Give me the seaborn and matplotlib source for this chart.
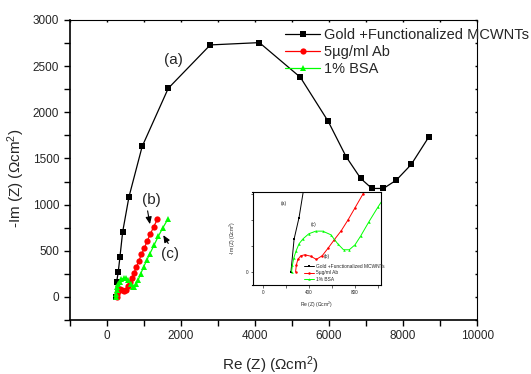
import matplotlib
matplotlib.use("Agg")
import matplotlib.pyplot as plt
from matplotlib.ticker import MultipleLocator, FixedLocator
import seaborn as sns
import pandas as pd

# ---- data ----
black_x = [245, 272, 315, 361, 434, 604, 960, 1664, 2797, 4122, 5228, 5978,
           6463, 6856, 7157, 7468, 7815, 8218, 8684]
black_y = [0, 163, 271, 434, 705, 1084, 1630, 2260, 2730, 2755, 2379, 1902,
           1518, 1283, 1175, 1175, 1265, 1435, 1728]
red_x = [285, 292, 305, 330, 365, 415, 465, 515, 565, 620, 680, 740, 800,
         870, 940, 1020, 1100, 1180, 1270, 1370]
red_y = [0, 35, 62, 80, 85, 78, 62, 80, 117, 160, 205, 260, 320,
         390, 460, 530, 610, 680, 760, 840]
green_x = [250, 258, 270, 290, 315, 350, 400, 460, 520, 590, 650, 700, 750,
           800, 850, 920, 1000, 1080, 1170, 1280, 1400, 1520, 1650]
green_y = [0, 35, 70, 105, 140, 165, 190, 203, 203, 185, 140, 110, 110,
           135, 180, 250, 325, 395, 470, 560, 660, 750, 840]
labels = ["Gold +Functionalized MCWNTs", "5\u00b5g/ml Ab", "1% BSA"]
x_ticks = [0, 2000, 4000, 6000, 8000, 10000]
y_ticks = [0, 500, 1000, 1500, 2000, 2500, 3000]
inset_x_ticks = [0, 400, 800]

sns.set_theme(style="white")
plt.rcParams["font.family"] = ["Liberation Sans", "DejaVu Sans"]
plt.rcParams["mathtext.fontset"] = "custom"
plt.rcParams["mathtext.rm"] = "Liberation Sans"
plt.rcParams["mathtext.it"] = "Liberation Sans:italic"

W, H = 531, 374
fig = plt.figure(figsize=(W / 100, H / 100), dpi=100)
fig.patch.set_facecolor("white")

L, R, T, B = 69.5, 477.3, 20.0, 320.0
ax = fig.add_axes([L / W, 1 - B / H, (R - L) / W, (B - T) / H])
ax.set_facecolor("white")

series = [
    (black_x, black_y, "black", "s", 3.8),
    (red_x, red_y, "#ff0000", "o", 4.5),
    (green_x, green_y, "#00ff00", "^", 5.0),
]

for (xs, ys, c, m, ms), lab in zip(series, labels):
    df = pd.DataFrame({"x": xs, "y": ys})
    sns.lineplot(data=df, x="x", y="y", sort=False, ax=ax, color=c, marker=m,
                 markersize=ms, markeredgewidth=0, linewidth=0.9, label=lab)

ax.set_xlim(-1000, 10000)
ax.set_ylim(-250, 3000)
ax.xaxis.set_major_locator(FixedLocator(x_ticks))
ax.xaxis.set_minor_locator(MultipleLocator(1000))
ax.yaxis.set_major_locator(FixedLocator(y_ticks))
ax.yaxis.set_minor_locator(MultipleLocator(250))
ax.tick_params(axis="both", which="both", direction="out", length=4.5, width=1.0,
               color="black", labelsize=8.5, pad=3, bottom=True, left=True)
ax.tick_params(axis="both", which="both", top=True, right=True)
for t in ax.xaxis.get_major_ticks() + ax.xaxis.get_minor_ticks():
    t.tick2line.set_markersize(1.5)
    t.tick2line.set_marker(3)
for t in ax.yaxis.get_major_ticks() + ax.yaxis.get_minor_ticks():
    t.tick2line.set_markersize(1.5)
    t.tick2line.set_marker(0)

for s in ["left", "bottom"]:
    ax.spines[s].set_linewidth(1.2)
    ax.spines[s].set_color("black")
for s in ["top", "right"]:
    ax.spines[s].set_linewidth(0.8)
    ax.spines[s].set_color("black")

ax.set_xlabel("Re (Z) (\u03a9cm$^{2}$)", fontsize=11)
ax.set_ylabel("-Im (Z) (\u03a9cm$^{2}$)", fontsize=11)
ax.xaxis.set_label_coords(0.492, -0.113)
ax.yaxis.set_label_coords(-0.105, 0.473)

leg = ax.legend(loc="upper left", bbox_to_anchor=(285 / W, 1 - 28 / H),
                bbox_transform=fig.transFigure, frameon=False, fontsize=10.5,
                handlelength=2.4, handletextpad=0.25, labelspacing=0.22,
                borderpad=0, borderaxespad=0)

# annotations
ax.text(1800, 2570, "(a)", fontsize=11, ha="center", va="center")
ax.text(1215, 1048, "(b)", fontsize=11, ha="center", va="center")
ax.text(1709, 463, "(c)", fontsize=11, ha="center", va="center")
arrow = dict(arrowstyle="-|>,head_length=0.35,head_width=0.15", color="black", lw=0.8,
             shrinkA=0, shrinkB=0)
ax.annotate("", xy=(1170, 788), xytext=(1107, 932), arrowprops=arrow)
ax.annotate("", xy=(1529, 669), xytext=(1664, 579), arrowprops=arrow)

# ---- inset ----
iL, iR, iT, iB = 252.5, 380.7, 191.7, 285.0
ins = fig.add_axes([iL / W, 1 - iB / H, (iR - iL) / W, (iB - iT) / H])
ins.set_facecolor("white")
for (xs, ys, c, m, ms), lab in zip(series, labels):
    df = pd.DataFrame({"x": xs, "y": ys})
    sns.lineplot(data=df, x="x", y="y", sort=False, ax=ins, color=c, marker=m,
                 markersize=1.8, markeredgewidth=0, linewidth=0.7, label=lab)
ins.set_xlim(-88, 1022)
ins.set_ylim(-66, 400)
ins.xaxis.set_major_locator(FixedLocator(inset_x_ticks))
ins.xaxis.set_minor_locator(MultipleLocator(200))
ins.yaxis.set_major_locator(FixedLocator([0, 130, 260, 390]))
ins.set_yticklabels(["0", "", "", ""])
ins.tick_params(axis="both", which="both", direction="out", length=1.8, width=0.5,
                labelsize=3.3, pad=1.5, bottom=True, left=True)
for s in ins.spines.values():
    s.set_linewidth(0.8)
    s.set_color("black")
ins.set_xlabel("Re (Z) (\u03a9cm$^{2}$)", fontsize=3.6, labelpad=4)
ins.set_ylabel("-Im (Z) (\u03a9cm$^{2}$)", fontsize=3.6, labelpad=5)
ins.text(187, 341, "(a)", fontsize=3.6, ha="center", va="center")
ins.text(438, 236, "(c)", fontsize=3.6, ha="center", va="center")
ins.text(559, 75, "(b)", fontsize=3.6, ha="center", va="center")
ins.legend(loc="upper left", bbox_to_anchor=(304.3 / W, 1 - 264 / H),
           bbox_transform=fig.transFigure, frameon=False, fontsize=3.5,
           handlelength=1.9, handletextpad=0.5, labelspacing=0.3,
           borderpad=0, borderaxespad=0)

fig.savefig("out.png", dpi=100, facecolor="white")
